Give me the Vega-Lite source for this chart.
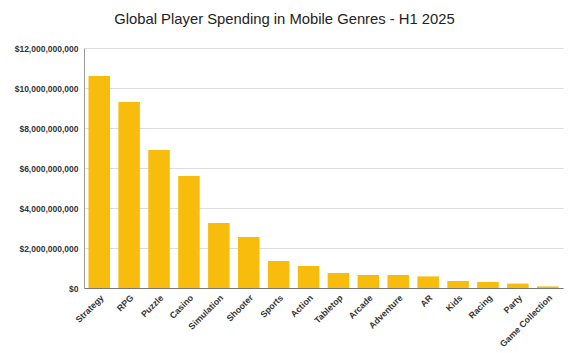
{
  "$schema": "https://vega.github.io/schema/vega-lite/v6.json",
  "autosize": {"type": "none"},
  "padding": {"left": 84, "top": 48, "right": 21, "bottom": 65},
  "width": 479,
  "height": 240,
  "background": "white",
  "title": {
    "text": "Global Player Spending in Mobile Genres - H1 2025",
    "font": "Liberation Sans",
    "fontSize": 14.8,
    "fontWeight": "normal",
    "color": "#222222",
    "anchor": "middle",
    "dx": -39,
    "offset": 17
  },
  "data": {
    "values": [
      {"genre": "Strategy", "spending": 10600000000},
      {"genre": "RPG", "spending": 9300000000},
      {"genre": "Puzzle", "spending": 6900000000},
      {"genre": "Casino", "spending": 5600000000},
      {"genre": "Simulation", "spending": 3250000000},
      {"genre": "Shooter", "spending": 2550000000},
      {"genre": "Sports", "spending": 1350000000},
      {"genre": "Action", "spending": 1100000000},
      {"genre": "Tabletop", "spending": 750000000},
      {"genre": "Arcade", "spending": 650000000},
      {"genre": "Adventure", "spending": 650000000},
      {"genre": "AR", "spending": 580000000},
      {"genre": "Kids", "spending": 350000000},
      {"genre": "Racing", "spending": 300000000},
      {"genre": "Party", "spending": 220000000},
      {"genre": "Game Collection", "spending": 80000000}
    ]
  },
  "mark": {"type": "bar", "color": "#F8BC0C"},
  "encoding": {
    "x": {
      "field": "genre",
      "type": "nominal",
      "sort": null,
      "title": null,
      "scale": {"paddingInner": 0.28, "paddingOuter": 0.15},
      "axis": {
        "labelAngle": -45,
        "labelFont": "Liberation Sans",
        "labelFontSize": 8.8,
        "labelFontWeight": "bold",
        "labelColor": "#333333",
        "ticks": false,
        "labelPadding": 5,
        "domainColor": "#777777",
        "domainWidth": 1
      }
    },
    "y": {
      "field": "spending",
      "type": "quantitative",
      "title": null,
      "scale": {"domain": [0, 12000000000], "nice": false},
      "axis": {
        "values": [0, 2000000000, 4000000000, 6000000000, 8000000000, 10000000000, 12000000000],
        "format": "$,.0f",
        "labelFont": "Liberation Sans",
        "labelFontSize": 8.5,
        "labelFontWeight": "bold",
        "labelColor": "#333333",
        "ticks": false,
        "labelPadding": 6,
        "domainColor": "#999999",
        "gridColor": "#DDDDDD",
        "gridWidth": 1
      }
    }
  },
  "config": {"view": {"stroke": null}}
}
